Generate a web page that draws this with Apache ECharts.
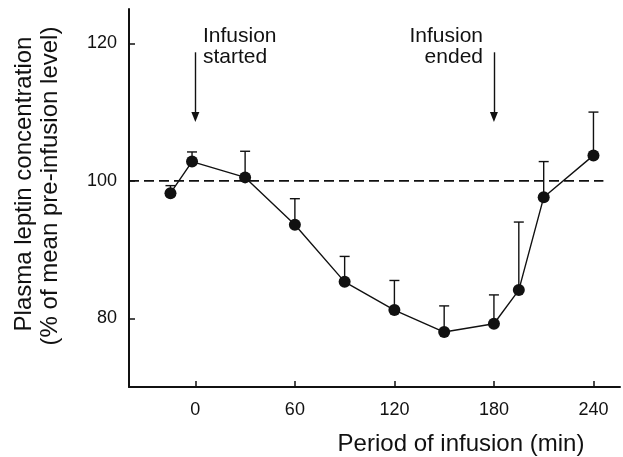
<!DOCTYPE html>
<html><head><meta charset="utf-8">
<script src="https://cdn.jsdelivr.net/npm/echarts@6/dist/echarts.min.js"></script>
<style>html,body{margin:0;padding:0;background:#fff}#c{width:623px;height:457px}</style>
</head><body><div id="c"></div>
<script>
// Data
const times = [-15, -2, 30, 60, 90, 120, 150, 180, 195, 210, 240];
const means = [98.2, 102.8, 100.5, 93.6, 85.3, 81.2, 78.0, 79.2, 84.1, 97.6, 103.7];
const upper = [99.3, 104.2, 104.3, 97.4, 89.0, 85.5, 81.8, 83.4, 94.0, 102.8, 110.0];
const xTicks = [0, 60, 120, 180, 240];
const yTicks = [80, 100, 120];
const refLevel = 100;
const refSpan = [-40, 246];
const arrowStarted = {x: 0, from: 118.7, to: 109.3};
const arrowEnded = {x: 180, from: 118.7, to: 109.3};

const FONT = '"Liberation Sans", Arial, Helvetica, sans-serif';
const INK = '#111';
const chart = echarts.init(document.getElementById('c'), null, {renderer: 'canvas'});

const pts = times.map((t, i) => [t, means[i]]);
const errData = times.map((t, i) => [t, means[i], upper[i]]);

chart.setOption({
  animation: false,
  backgroundColor: '#fff',
  grid: {left: 129, top: 9, width: 491, height: 378, containLabel: false},
  xAxis: {
    type: 'value', min: -40, max: 256,
    axisLine: {show: true, onZero: false, lineStyle: {color: INK, width: 2}},
    axisTick: {show: true, inside: true, length: 6, lineStyle: {color: INK, width: 1.5}, customValues: xTicks},
    axisLabel: {show: true, margin: 14, color: INK, fontSize: 18, fontFamily: FONT, customValues: xTicks},
    splitLine: {show: false}
  },
  yAxis: {
    type: 'value', min: 70, max: 125,
    axisLine: {show: true, onZero: false, lineStyle: {color: INK, width: 2}},
    axisTick: {show: true, inside: true, length: 6, lineStyle: {color: INK, width: 1.5}, customValues: yTicks},
    axisLabel: {show: true, margin: 12, color: INK, fontSize: 18, fontFamily: FONT, customValues: yTicks},
    splitLine: {show: false}
  },
  series: [
    {
      type: 'line', data: refSpan.map(x => [x, refLevel]), symbol: 'none', silent: true,
      lineStyle: {color: INK, width: 1.8, type: [10, 5]}, z: 1
    },
    {
      type: 'custom', data: errData, z: 2, silent: true,
      renderItem: function (params, api) {
        const p0 = api.coord([api.value(0), api.value(1)]);
        const p1 = api.coord([api.value(0), api.value(2)]);
        const hw = 5;
        return {type: 'group', children: [
          {type: 'line', shape: {x1: p0[0], y1: p0[1], x2: p1[0], y2: p1[1]}, style: {stroke: INK, lineWidth: 1.4}},
          {type: 'line', shape: {x1: p1[0] - hw, y1: p1[1], x2: p1[0] + hw, y2: p1[1]}, style: {stroke: INK, lineWidth: 1.4}}
        ]};
      }
    },
    {
      type: 'line', data: pts, symbol: 'circle', symbolSize: 12, z: 3,
      lineStyle: {color: INK, width: 1.4}, itemStyle: {color: INK, borderWidth: 0},
      markLine: {
        silent: true, symbol: ['none', 'triangle'], symbolSize: [8, 10],
        label: {show: false},
        lineStyle: {color: INK, width: 1.4, type: 'solid'},
        data: [
          [{coord: [arrowStarted.x, arrowStarted.from]}, {coord: [arrowStarted.x, arrowStarted.to]}],
          [{coord: [arrowEnded.x, arrowEnded.from]}, {coord: [arrowEnded.x, arrowEnded.to]}]
        ]
      }
    }
  ],
  graphic: [
    {type: 'text', x: 203, y: 26, style: {text: 'Infusion\nstarted', font: '21px ' + FONT, fill: INK, lineHeight: 21, align: 'left', verticalAlign: 'top'}},
    {type: 'text', x: 483, y: 26, style: {text: 'Infusion\nended', font: '21px ' + FONT, fill: INK, lineHeight: 21, align: 'right', verticalAlign: 'top'}},
    {type: 'text', x: 24, y: 184, rotation: Math.PI / 2, style: {text: 'Plasma leptin concentration', font: '24px ' + FONT, fill: INK, align: 'center', verticalAlign: 'middle'}},
    {type: 'text', x: 50, y: 186, rotation: Math.PI / 2, style: {text: '(% of mean pre-infusion level)', font: '24px ' + FONT, fill: INK, align: 'center', verticalAlign: 'middle'}},
    {type: 'text', x: 461, y: 444, style: {text: 'Period of infusion (min)', font: '24px ' + FONT, fill: INK, align: 'center', verticalAlign: 'middle'}}
  ]
});
</script></body></html>
